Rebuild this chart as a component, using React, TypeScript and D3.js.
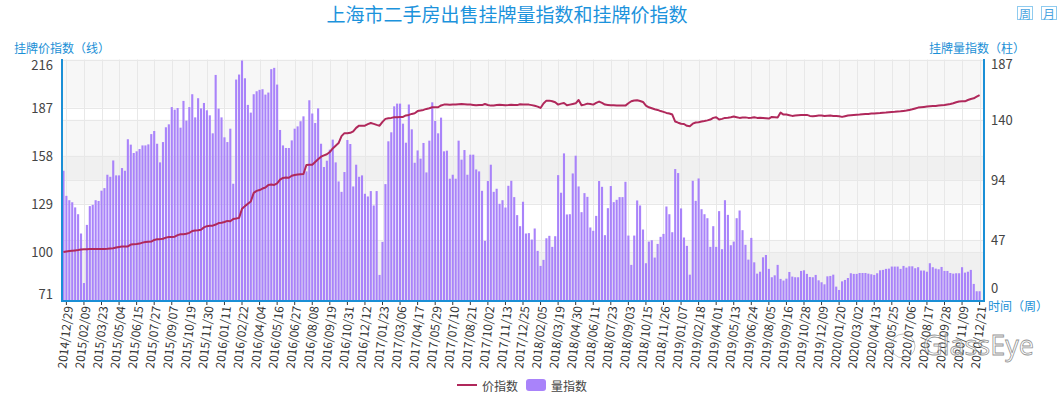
import React, { useEffect, useRef } from 'react';
import * as d3 from 'd3';

// weekly listing volume index (bars, right axis), 2014/12/22 .. 2020/12/21
const volumeIndex = [
  100.5, 81, 77.6, 76, 72, 66.7, 51.7, 13.2, 58.4, 73,
  74, 77.6, 77, 85, 87, 97.4, 95.8, 108.5, 96.9, 96.9,
  102.6, 100.5, 125, 120.8, 114.3, 115.6, 117.4, 120.2, 120.2, 121,
  129, 131.4, 121.5, 107, 122.8, 134.3, 136.6, 150, 148, 149.3,
  134, 154.8, 139.5, 150, 160, 142, 156.9, 149, 153.2, 147.5,
  143.6, 129.6, 175, 148.8, 142, 126.5, 122.8, 133.2, 90.4, 171.4,
  175.3, 186.2, 172.4, 151.7, 145.7, 160, 162.3, 163.4, 163.9, 159.7,
  161.3, 179.5, 180.5, 167.5, 132.2, 120.2, 118.2, 118.2, 124.1, 133.2,
  135, 139, 142.8, 100, 155.3, 145, 137.6, 149, 121.5, 103.4,
  108.3, 116.9, 124.7, 107, 92.2, 84.1, 99.5, 124.4, 121.3, 88.3,
  105.2, 95.8, 96.9, 82.6, 80.5, 84.7, 73.5, 84.7, 19.5, 45.2,
  90.1, 123.4, 130.4, 150.6, 152.7, 152.7, 137.1, 122.3, 152, 132.7,
  106.7, 116.3, 109.9, 122.1, 99.2, 123.9, 153.7, 139.2, 129.6, 141.8,
  115.6, 116.1, 94.3, 97.4, 94.3, 123.9, 109.1, 116.6, 97.4, 113,
  113, 101.5, 100, 84.9, 46, 92.5, 105.2, 84.1, 86.5, 74.8,
  77.6, 71.9, 88.8, 92.7, 80, 66, 57.4, 76.4, 51.7, 52,
  47, 55.6, 38.2, 26.5, 31.2, 48, 49.9, 41.3, 49.6, 97.1,
  83.4, 114, 66.5, 66.7, 98.4, 112.2, 88.3, 68.3, 83.1, 80.2,
  56.4, 53.8, 65.4, 92.5, 88, 50.4, 71.4, 88.6, 76.1, 77.9,
  80, 80, 91.9, 50.1, 27.3, 50.1, 77.4, 73.5, 54.8, 28.6,
  45.4, 46.5, 33, 43.6, 49.1, 51.4, 72.7, 66.7, 52.7, 101.8,
  98.7, 71.2, 48.6, 42.1, 19.7, 92.7, 77.1, 94.5, 70.6, 66.7,
  63.6, 41.3, 57.4, 41.3, 69.1, 39.5, 77.6, 66.2, 42.6, 45.4,
  63.6, 69.6, 54.3, 42.9, 31.4, 48.3, 29.3, 20.5, 22, 33.2,
  35, 24.2, 17.7, 19.2, 27.3, 16.4, 15.1, 16.6, 21.8, 18.2,
  17.7, 17.7, 22.6, 23.1, 20.3, 17.9, 17.7, 19.5, 15.3, 13.8,
  12.2, 18.4, 18.7, 19.7, 10.4, 7.8, 14.5, 15.6, 17.1, 20.8,
  20.3, 20.3, 21, 21, 21, 20.5, 20, 19.5, 20.8, 23.1,
  23.4, 24.2, 24.4, 26, 26, 26, 24.2, 26.5, 25.2, 26.2,
  26.2, 24.7, 25.5, 22.9, 22.9, 22, 28.6, 25.5, 24.4, 23.9,
  25.7, 22.6, 22.6, 21, 20.5, 20.8, 20.8, 25.5, 21.3, 22,
  23.4, 12.5, 6.8, 6.8
];

// weekly listing price index (line, left axis)
const priceIndex = [
  100.0, 100.3, 100.5, 100.7, 100.9, 101.1, 101.4, 101.6, 101.6, 101.7,
  101.7, 101.8, 101.8, 101.8, 101.8, 101.9, 102.1, 102.2, 102.6, 103.0,
  103.2, 103.3, 103.3, 104.4, 104.6, 104.7, 105.0, 105.6, 106.0, 106.1,
  106.2, 107.2, 107.6, 107.7, 107.9, 108.6, 109.0, 109.0, 109.2, 110.1,
  110.6, 110.7, 110.9, 111.5, 112.6, 112.9, 113.0, 113.4, 114.8, 115.5,
  115.7, 115.8, 116.5, 117.4, 117.6, 118.0, 118.7, 118.5, 119.8, 120.1,
  120.5, 126.0, 127.6, 129.0, 130.4, 135.6, 136.8, 137.3, 138.2, 138.8,
  140.4, 140.6, 140.4, 141.3, 143.6, 144.6, 144.8, 144.7, 145.9, 146.4,
  146.6, 146.8, 147.0, 152.4, 152.6, 152.6, 154.2, 155.8, 157.4, 158.2,
  158.9, 160.2, 162.4, 164.0, 165.6, 169.8, 171.6, 171.5, 171.8, 172.7,
  174.8, 176.1, 176.0, 176.1, 177.0, 177.7, 177.2, 176.6, 176.1, 178.4,
  180.2, 180.6, 180.8, 181.2, 181.2, 181.3, 181.4, 182.3, 182.6, 183.2,
  183.6, 184.9, 185.3, 185.6, 186.2, 186.6, 187.2, 187.2, 187.2, 188.3,
  188.8, 188.8, 188.7, 188.9, 188.8, 189.0, 189.2, 189.0, 188.8, 188.8,
  188.6, 188.4, 188.6, 188.5, 189.2, 188.6, 188.2, 188.3, 188.5, 188.7,
  188.6, 188.4, 188.5, 188.7, 188.6, 188.5, 189.0, 188.8, 188.8, 188.8,
  188.5, 188.1, 187.6, 186.8, 189.5, 191.2, 191.2, 190.8, 190.2, 188.8,
  189.4, 189.8, 188.4, 188.8, 189.2, 189.6, 191.6, 188.4, 188.8, 189.4,
  189.2, 188.8, 189.8, 190.6, 189.8, 188.8, 188.6, 188.4, 188.4, 188.3,
  188.2, 188.2, 188.2, 189.6, 190.8, 191.3, 191.4, 191.0, 190.4, 188.2,
  187.2, 186.6, 186.0, 185.6, 184.9, 184.4, 183.8, 183.4, 182.8, 178.6,
  177.9, 177.3, 177.1, 176.0, 175.8, 177.3, 178.0, 178.2, 178.6, 178.9,
  179.3, 179.8, 180.8, 181.2, 179.8, 180.2, 180.8, 180.9, 181.2, 181.6,
  181.2, 180.8, 181.0, 181.1, 180.8, 180.9, 181.2, 180.8, 180.9, 180.8,
  180.6, 180.4, 181.4, 181.2, 181.0, 184.0, 182.8, 182.8, 182.4, 182.0,
  182.2, 182.4, 182.5, 182.6, 182.6, 182.0, 181.8, 182.0, 182.2, 182.2,
  182.0, 182.1, 182.2, 182.0, 181.9, 181.8, 181.4, 181.8, 182.2, 182.4,
  182.6, 182.7, 182.8, 183.0, 183.1, 183.2, 183.4, 183.5, 183.6, 183.7,
  183.9, 184.0, 184.2, 184.4, 184.5, 184.7, 184.8, 185.0, 185.2, 185.6,
  186.0, 186.5, 187.0, 187.2, 187.4, 187.6, 187.8, 187.9, 188.0, 188.2,
  188.4, 188.6, 188.9, 189.2, 189.6, 190.2, 190.7, 190.8, 190.8, 191.6,
  192.2, 192.6, 193.6, 194.5
];

const leftTicks = [71, 100, 129, 158, 187, 216];
const rightTicks = [0, 46.75, 93.5, 140.25, 187];

const fmt = d3.timeFormat('%Y/%m/%d');
// one category per week (Mondays)
const weeks = d3.timeMonday.range(new Date(2014, 11, 22), new Date(2021, 0, 4)).map(fmt);
const labelWeeks = weeks.filter((d, i) => i % 6 === 1);

const W = 1062;
const H = 393;
const grid = { left: 62, right: 984, top: 59.5, bottom: 300 };
const FONT = '"Noto Sans CJK SC", "Noto Sans", sans-serif';
const BLUE = '#1a8fd6';

const ListingChart = () => {
  const ref = useRef<SVGSVGElement>(null);

  useEffect(() => {
    document.body.style.margin = '0';
    const svg = d3.select(ref.current);
    svg.selectAll('*').remove();
    svg.style('font-family', FONT);

    const x = d3.scaleBand<string>().domain(weeks).range([grid.left, grid.right]);
    const bw = x.bandwidth();
    const cx = (i: number) => (x(weeks[i]) as number) + bw / 2;
    const yL = d3.scaleLinear().domain([71, 216]).range([grid.bottom, grid.top]);
    const yR = d3.scaleLinear().domain([0, 187]).range([grid.bottom, grid.top]);

    // split areas (both axes, alternating)
    const bands = svg.append('g');
    leftTicks.slice(0, -1).forEach((t, i) => {
      if (i % 2) return;
      bands.append('rect')
        .attr('x', grid.left).attr('width', grid.right - grid.left)
        .attr('y', yL(leftTicks[i + 1])).attr('height', yL(t) - yL(leftTicks[i + 1]))
        .attr('fill', 'rgba(190,190,190,0.12)');
    });
    rightTicks.slice(0, -1).forEach((t, i) => {
      if (i % 2) return;
      bands.append('rect')
        .attr('x', grid.left).attr('width', grid.right - grid.left)
        .attr('y', yR(rightTicks[i + 1])).attr('height', yR(t) - yR(rightTicks[i + 1]))
        .attr('fill', 'rgba(190,190,190,0.12)');
    });

    // grid lines
    const gl = svg.append('g').attr('stroke', '#e8e8e8').attr('stroke-width', 1);
    leftTicks.forEach((t) => {
      gl.append('line').attr('x1', grid.left).attr('x2', grid.right)
        .attr('y1', Math.round(yL(t)) + 0.5).attr('y2', Math.round(yL(t)) + 0.5);
    });
    rightTicks.forEach((t) => {
      gl.append('line').attr('x1', grid.left).attr('x2', grid.right)
        .attr('y1', Math.round(yR(t)) + 0.5).attr('y2', Math.round(yR(t)) + 0.5);
    });
    labelWeeks.forEach((w) => {
      const px = Math.round((x(w) as number) + bw / 2) + 0.5;
      gl.append('line').attr('x1', px).attr('x2', px).attr('y1', grid.top).attr('y2', grid.bottom);
    });

    // bars
    svg.append('g')
      .selectAll('rect')
      .data(volumeIndex)
      .join('rect')
      .attr('x', (d, i) => cx(i) - bw * 0.36)
      .attr('width', bw * 0.72)
      .attr('y', (d) => yR(d))
      .attr('height', (d) => yR(0) - yR(d))
      .attr('fill', '#a983fa');

    // price line
    const line = d3.line<number>().x((d, i) => cx(i)).y((d) => yL(d));
    svg.append('path')
      .attr('d', line(priceIndex))
      .attr('fill', 'none')
      .attr('stroke', '#b0285b')
      .attr('stroke-width', 2)
      .attr('stroke-linejoin', 'round');

    // axis lines
    const ax = svg.append('g').attr('stroke', BLUE).attr('stroke-width', 2);
    ax.append('line').attr('x1', grid.left).attr('x2', grid.left).attr('y1', grid.top - 0.5).attr('y2', grid.bottom + 2);
    ax.append('line').attr('x1', grid.right).attr('x2', grid.right).attr('y1', grid.top - 0.5).attr('y2', grid.bottom + 2);
    ax.append('line').attr('x1', grid.left - 1).attr('x2', grid.right + 1).attr('y1', grid.bottom + 1).attr('y2', grid.bottom + 1);

    // x ticks + labels
    labelWeeks.forEach((w) => {
      const px = (x(w) as number) + bw / 2;
      svg.append('line').attr('x1', px).attr('x2', px).attr('y1', grid.bottom + 2).attr('y2', grid.bottom + 5)
        .attr('stroke', '#333').attr('stroke-width', 1);
      svg.append('text')
        .attr('transform', `translate(${px + 1},${grid.bottom + 6}) rotate(-84)`)
        .attr('text-anchor', 'end')
        .attr('dominant-baseline', 'central')
        .attr('font-size', 12)
        .attr('fill', '#333')
        .text(w);
    });

    // y labels
    leftTicks.forEach((t, i) => {
      let py = yL(t);
      if (i === 0) py -= 7;
      if (i === leftTicks.length - 1) py += 4.5;
      svg.append('text').attr('x', 53).attr('y', py)
        .attr('text-anchor', 'end').attr('dominant-baseline', 'central')
        .attr('font-size', 13).attr('fill', '#444').text(t);
    });
    rightTicks.forEach((t, i) => {
      let py = yR(t);
      if (i === 0) py -= 13;
      if (i === rightTicks.length - 1) py += 4;
      svg.append('text').attr('x', 991).attr('y', py)
        .attr('text-anchor', 'start').attr('dominant-baseline', 'central')
        .attr('font-size', 13).attr('fill', '#444').text(Math.round(t));
    });

    // axis names
    svg.append('text').attr('x', 14).attr('y', 47).attr('dominant-baseline', 'central')
      .attr('font-size', 12).attr('fill', BLUE).text('挂牌价指数（线）');
    svg.append('text').attr('x', 1025).attr('y', 47).attr('text-anchor', 'end').attr('dominant-baseline', 'central')
      .attr('font-size', 12).attr('fill', BLUE).text('挂牌量指数（柱）');
    svg.append('text').attr('x', 988).attr('y', 305.5).attr('dominant-baseline', 'central')
      .attr('font-size', 12).attr('fill', BLUE).text('时间（周）');

    // title
    svg.append('text').attr('x', 507).attr('y', 13).attr('text-anchor', 'middle').attr('dominant-baseline', 'central')
      .attr('font-size', 19).attr('fill', '#1c93dc').text('上海市二手房出售挂牌量指数和挂牌价指数');

    // period buttons
    ['周', '月'].forEach((s, i) => {
      const bx = 1017 + i * 24;
      svg.append('rect').attr('x', bx + 0.5).attr('y', 6.5).attr('width', 15).attr('height', 13)
        .attr('fill', '#fff').attr('stroke', '#8fcbef').attr('stroke-width', 1);
      svg.append('text').attr('x', bx + 8).attr('y', 13.5).attr('text-anchor', 'middle').attr('dominant-baseline', 'central')
        .attr('font-size', 12).attr('fill', '#4aa3e0').text(s);
    });

    // legend
    const lg = svg.append('g');
    lg.append('line').attr('x1', 457).attr('x2', 477).attr('y1', 385).attr('y2', 385)
      .attr('stroke', '#b0285b').attr('stroke-width', 2);
    lg.append('text').attr('x', 482).attr('y', 385).attr('dominant-baseline', 'central')
      .attr('font-size', 12).attr('fill', '#444').text('价指数');
    lg.append('rect').attr('x', 526).attr('y', 379).attr('width', 20).attr('height', 12).attr('rx', 3)
      .attr('fill', '#a983fa');
    lg.append('text').attr('x', 551).attr('y', 385).attr('dominant-baseline', 'central')
      .attr('font-size', 12).attr('fill', '#444').text('量指数');

    // watermark
    svg.append('text').attr('x', 923).attr('y', 344).attr('dominant-baseline', 'central')
      .attr('font-size', 27).attr('font-family', '"Open Sans", sans-serif')
      .attr('fill', '#fff').attr('fill-opacity', 0.5)
      .attr('stroke', '#777').attr('stroke-width', 0.8).attr('stroke-opacity', 0.8)
      .text('GlassEye');
    svg.append('circle').attr('cx', 903).attr('cy', 346).attr('r', 12)
      .attr('fill', 'none').attr('stroke', '#999').attr('stroke-opacity', 0.6);
  }, []);

  return <svg ref={ref} width={W} height={H} style={{ display: 'block' }}></svg>;
};

export default function App() {
  return <ListingChart />;
}
